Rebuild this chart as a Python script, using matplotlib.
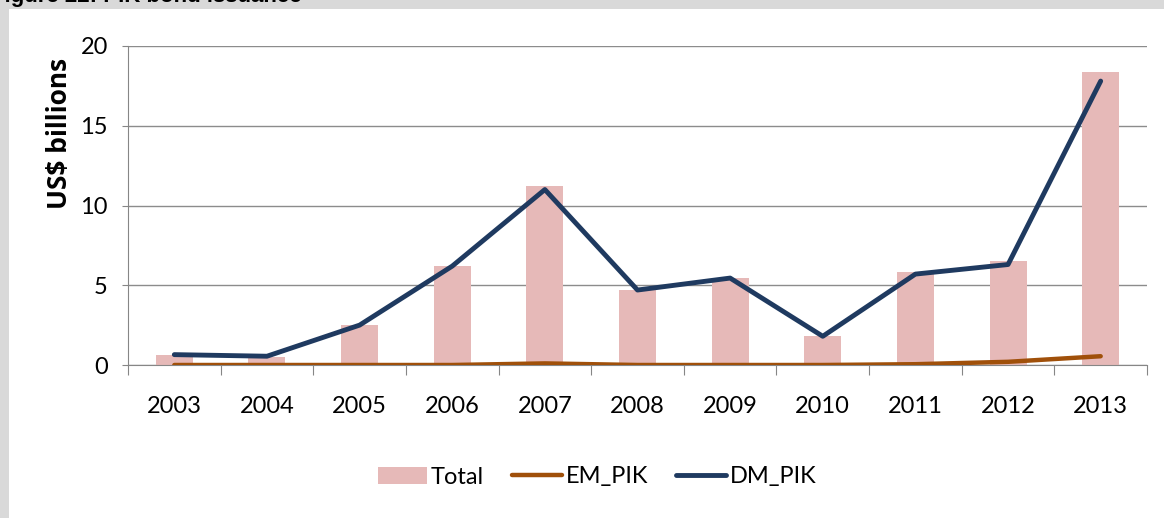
import numpy as np
import matplotlib.pyplot as plt
from matplotlib.patches import Rectangle

years = ['2003', '2004', '2005', '2006', '2007', '2008', '2009', '2010', '2011', '2012', '2013']
total = [0.65, 0.5, 2.5, 6.2, 11.2, 4.7, 5.45, 1.8, 5.8, 6.5, 18.4]
em_pik = [0.0, 0.0, 0.0, 0.0, 0.1, 0.0, 0.0, 0.0, 0.05, 0.2, 0.55]
dm_pik = [0.65, 0.55, 2.5, 6.2, 11.0, 4.7, 5.45, 1.8, 5.7, 6.3, 17.8]

plt.rcParams['font.family'] = ['Lato', 'DejaVu Sans']

fig = plt.figure(figsize=(11.64, 5.18), dpi=100, facecolor='#d9d9d9')
# white panel inside the grey frame (behind the axes)
fig.patches.append(Rectangle((9 / 1164, 0), 1, 1 - 9 / 518, transform=fig.transFigure,
                             facecolor='white', edgecolor='none', zorder=-1))
fig.text(-0.008, 1 - 2 / 518, 'Figure 22: PIK bond issuance', fontsize=16, fontweight='bold',
         va='baseline', ha='left', family=['Liberation Sans', 'DejaVu Sans'])

ax = fig.add_axes([128 / 1164, 1 - 365 / 518, (1147 - 128) / 1164, (365 - 46) / 518])
ax.set_facecolor('none')

x = np.arange(len(years))
bars = ax.bar(x, total, width=0.4, color='#e6b9b8', label='Total', zorder=2)
em_line, = ax.plot(x, em_pik, color='#a0500a', lw=3.2, solid_capstyle='round', label='EM_PIK', zorder=3)
dm_line, = ax.plot(x, dm_pik, color='#1f3a60', lw=3.5, solid_capstyle='round', label='DM_PIK', zorder=4)

ax.set_xlim(-0.5, 10.5)
ax.set_ylim(0, 20)
ax.set_yticks([0, 5, 10, 15, 20])
ax.tick_params(axis='y', labelsize=17, length=4.5, color='#868686', pad=10, direction='out')
ax.yaxis.grid(True, color='#8c8c8c', lw=1.0, zorder=0)
ax.set_axisbelow(True)

ax.set_xticks(np.arange(-0.5, 11, 1))
ax.set_xticklabels([])
ax.set_xticks(x, minor=True)
ax.set_xticklabels(years, minor=True)
ax.tick_params(axis='x', which='major', length=7, color='#868686', direction='out')
ax.tick_params(axis='x', which='minor', length=0, labelsize=17, pad=22)

for s in ['top', 'right']:
    ax.spines[s].set_visible(False)
for s in ['left', 'bottom']:
    ax.spines[s].set_color('#868686')

fig.text(60 / 1164, 1 - 133 / 518, 'US$ billions', rotation=90, fontsize=19, fontweight='bold',
         ha='center', va='center', family=['Open Sans', 'DejaVu Sans'])

ax.legend([bars, em_line, dm_line], ['Total', 'EM_PIK', 'DM_PIK'],
          loc='center', bbox_to_anchor=(597 / 1164, 1 - 477 / 518), bbox_transform=fig.transFigure,
          ncol=3, frameon=False, fontsize=17, handlelength=2.1, handletextpad=0.15, columnspacing=1.2)

fig.savefig('out.png', dpi=100, facecolor=fig.get_facecolor())
